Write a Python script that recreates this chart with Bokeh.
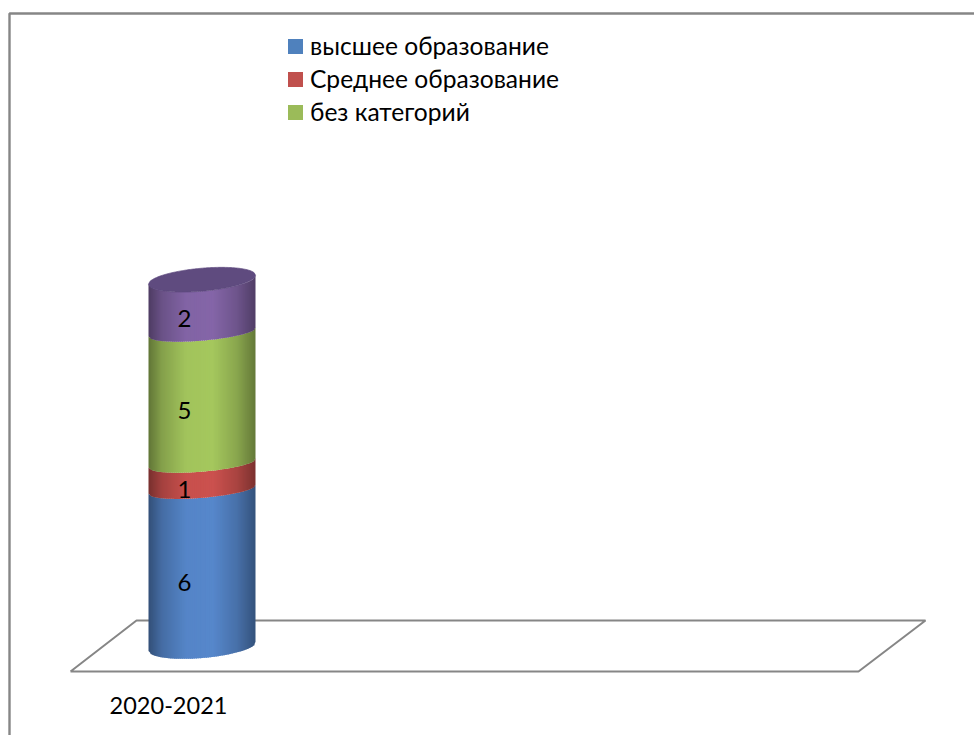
import numpy as np
from bokeh.plotting import figure
from bokeh.models import Range1d, ColumnDataSource
from bokeh.core.properties import value
from bokeh.embed import file_html
from bokeh.resources import INLINE

# --- data ---
category = "2020-2021"
series_names = ["высшее образование", "Среднее образование", "без категорий", ""]
series_values = [6, 1, 5, 2]
legend_names = series_names[:3]
base_colors = [(85, 133, 200), (200, 80, 77), (162, 196, 92), (130, 100, 165)]
legend_colors = ["#4f81bd", "#c0504d", "#9bbb59"]

# --- layout (page pixels) ---
W, H = 974, 735
FONT = "Lato"
Y0_PX, UNIT = 646.0, 26.2
PAGE_X, PAGE_Y = 0, 0
CX, HALF = 201.5, 53.5
TILT, B_OUT, B_IN = 4.5, 11.5, 8.5


def yv(py):
    return (Y0_PX - py) / UNIT


def xv(px):
    return px - PAGE_X


p = figure(width=W, height=H, output_backend="svg", toolbar_location=None,
           x_range=Range1d(0, W), y_range=Range1d(yv(PAGE_Y + H), yv(PAGE_Y)),
           min_border=0, min_border_left=0, min_border_right=0,
           min_border_top=0, min_border_bottom=0)
p.axis.visible = False
p.grid.visible = False
p.outline_line_color = None
p.background_fill_color = "white"
p.border_fill_color = "white"

# frame
p.line([xv(974), xv(9), xv(9)], [yv(13), yv(13), yv(735)], line_color="#868686", line_width=2.4)

# floor
fx = [70, 858, 925, 136, 70]
fy = [671, 671, 620, 620, 671]
p.line([xv(a) for a in fx], [yv(b) for b in fy], line_color="#868686", line_width=2)

# cylinder shading
stops_t = [-1, -0.75, -0.3, 0.2, 0.65, 1]
stops_s = [0.6, 0.82, 1.0, 1.02, 0.85, 0.62]
N = 54
edges = np.linspace(-1, 1, N + 1)


def front(t, level, b):
    return level + (TILT * t - b * np.sqrt(np.clip(1 - t * t, 0, 1))) / UNIT


def back(t, level, b):
    return level + (TILT * t + b * np.sqrt(np.clip(1 - t * t, 0, 1))) / UNIT


cum = np.concatenate([[0], np.cumsum(series_values)])
xs, ys, cols = [], [], []
for i, base in enumerate(base_colors):
    b_low = B_OUT if i == 0 else B_IN
    b_high = B_OUT if i == len(series_values) - 1 else B_IN
    for k, (a, b) in enumerate(zip(edges[:-1], edges[1:])):
        ts = np.array([a, b])
        low = front(ts, cum[i], b_low)
        high = front(ts, cum[i + 1], b_high)
        s = np.interp((a + b) / 2, stops_t, stops_s)
        c = tuple(int(min(255, v * s)) for v in base)
        x_px = CX + ts * HALF
        over = 1.0 if k < N - 1 else 0.0
        xs.append([xv(x_px[0]), xv(x_px[1] + over), xv(x_px[1] + over), xv(x_px[0])])
        ys.append([low[0], low[1], high[1], high[0]])
        cols.append("#%02x%02x%02x" % c)
src = ColumnDataSource(dict(xs=xs, ys=ys, c=cols))
p.patches("xs", "ys", source=src, fill_color="c", line_color=None)

# top cap
tt = np.linspace(-1, 1, 80)
top = cum[-1]
cap_x = list(xv(CX + tt * HALF)) + list(xv(CX + tt[::-1] * HALF))
cap_y = list(front(tt, top, B_OUT)) + list(back(tt[::-1], top, B_OUT))
p.patch(cap_x, cap_y, fill_color="#5f4b7f", line_color="#5f4b7f", line_width=0.7)

# data labels
mids = [(cum[i] + cum[i + 1]) / 2 for i in range(len(series_values))]
offs = [15, 13, 13, 13]
p.text([xv(184)] * 4, mids, text=[str(v) for v in series_values], y_offset=offs,
       text_align="center", text_baseline="middle", text_color="black",
       text_font=value(FONT), text_font_size="24px")

# category label
p.text([xv(168)], [yv(705)], text=[category], text_align="center", text_baseline="middle",
       text_color="black", text_font=value(FONT), text_font_size="23.5px")

# legend
leg_y = [46, 79, 112]
for name, col, ly in zip(legend_names, legend_colors, leg_y):
    p.quad(left=xv(287.5), right=xv(302.5), top=yv(ly - 7.5), bottom=yv(ly + 7.5),
           fill_color=col, line_color=None)
    p.text([xv(309.5)], [yv(ly - 1.5)], text=[name], text_align="left", text_baseline="middle",
           text_color="black", text_font=value(FONT), text_font_size="24.6px")

open("out.html", "w").write(file_html(p, INLINE))
